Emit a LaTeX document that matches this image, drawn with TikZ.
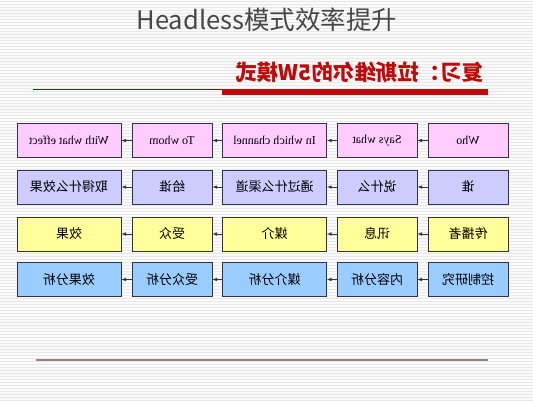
\documentclass[tikz,border=0pt]{standalone}
\usepackage{fontspec}
\usepackage{graphicx}
\usepackage{tikz}
\usetikzlibrary{positioning, calc}
\setmainfont{Liberation Serif}
\newfontfamily\cjk{Noto Sans CJK SC}
\newcommand{\mir}[1]{\reflectbox{#1}}
\definecolor{rowpink}{RGB}{255,204,255}
\definecolor{rowlilac}{RGB}{204,204,255}
\definecolor{rowyellow}{RGB}{255,255,153}
\definecolor{rowsky}{RGB}{153,204,255}
\definecolor{boxline}{RGB}{50,50,70}
\definecolor{headred}{RGB}{190,10,10}
\definecolor{endrule}{RGB}{150,130,125}

\begin{document}
\begin{tikzpicture}[>=latex, x=1pt, y=-1pt]

                \tikzset{% styles of the slide boxes
                    cell/.style={rectangle,minimum height=34pt,fill=#1,draw=boxline,line width=0.8pt,
                                        inner sep=1pt,font=\fontsize{12}{13}\selectfont},
                    zh/.style={font=\cjk\fontsize{13}{14}\selectfont},
                    wide/.style={minimum width=104pt},
                    narrow/.style={minimum width=80pt},
                    link/.style={->,line width=0.6pt,boxline}}

                    \useasboundingbox (0,0) rectangle (533,400);
                    \fill [gray!4] (0,0) rectangle (533,400);
                    \foreach \y in {1,4,...,400}
                        \draw [gray!18, line width=0.7pt] (0,\y) -- (533,\y);

                    % page title
                    \node [font=\cjk\fontsize{25.5}{27}\selectfont, text=black!72](title) at (267,20) {Headless模式效率提升};

                    % heading of the slide
                    \node [anchor=east, font=\cjk\bfseries\fontsize{21.5}{22}\selectfont, text=headred, inner sep=0pt](head) at (484,72) {\mir{复习：拉斯维尔的5W模式}};
                    \coordinate (bar_l) at (222,92);
                    \coordinate (bar_r) at (488,92);
                    \coordinate (rule_l) at (33,89);
                    \draw [headred, line width=6pt] (bar_l) -- (bar_r);
                    \draw [headred!70!black, line width=0.6pt] (rule_l) -- (bar_l |- rule_l);

                    % row 1
                    \node [cell=rowpink, narrow](who_1) at (468,140.5) {\mir{Who}};
                    \node [cell=rowpink, narrow](what_1) at (377,140.5) {\mir{Says what}};
                    \node [cell=rowpink, wide](channel_1) at (274.5,140.5) {\mir{In which channel}};
                    \node [cell=rowpink, narrow](whom_1) at (172,140.5) {\mir{To whom}};
                    \node [cell=rowpink, wide](effect_1) at (69,140.5) {\mir{With what effect}};

                    % row 2
                    \node [cell=rowlilac, narrow, zh](who_2) at (468,187) {\mir{谁}};
                    \node [cell=rowlilac, narrow, zh](what_2) at (377,187) {\mir{说什么}};
                    \node [cell=rowlilac, wide, zh](channel_2) at (274.5,187) {\mir{通过什么渠道}};
                    \node [cell=rowlilac, narrow, zh](whom_2) at (172,187) {\mir{给谁}};
                    \node [cell=rowlilac, wide, zh](effect_2) at (69,187) {\mir{取得什么效果}};

                    % row 3
                    \node [cell=rowyellow, narrow, zh](who_3) at (468,234) {\mir{传播者}};
                    \node [cell=rowyellow, narrow, zh](what_3) at (377,234) {\mir{讯息}};
                    \node [cell=rowyellow, wide, zh](channel_3) at (274.5,234) {\mir{媒介}};
                    \node [cell=rowyellow, narrow, zh](whom_3) at (172,234) {\mir{受众}};
                    \node [cell=rowyellow, wide, zh](effect_3) at (69,234) {\mir{效果}};

                    % row 4
                    \node [cell=rowsky, narrow, zh](who_4) at (468,279.5) {\mir{控制研究}};
                    \node [cell=rowsky, narrow, zh](what_4) at (377,279.5) {\mir{内容分析}};
                    \node [cell=rowsky, wide, zh](channel_4) at (274.5,279.5) {\mir{媒介分析}};
                    \node [cell=rowsky, narrow, zh](whom_4) at (172,279.5) {\mir{受众分析}};
                    \node [cell=rowsky, wide, zh](effect_4) at (69,279.5) {\mir{效果分析}};

                    \draw [link] (who_1) -- (what_1);
                    \draw [link] (what_1) -- (channel_1);
                    \draw [link] (channel_1) -- (whom_1);
                    \draw [link] (whom_1) -- (effect_1);

                    \draw [link] (who_2) -- (what_2);
                    \draw [link] (what_2) -- (channel_2);
                    \draw [link] (channel_2) -- (whom_2);
                    \draw [link] (whom_2) -- (effect_2);

                    \draw [link] (who_3) -- (what_3);
                    \draw [link] (what_3) -- (channel_3);
                    \draw [link] (channel_3) -- (whom_3);
                    \draw [link] (whom_3) -- (effect_3);

                    \draw [link] (who_4) -- (what_4);
                    \draw [link] (what_4) -- (channel_4);
                    \draw [link] (channel_4) -- (whom_4);
                    \draw [link] (whom_4) -- (effect_4);

                    % closing rule
                    \coordinate (end_l) at (36,360);
                    \coordinate (end_r) at (488,360);
                    \draw [endrule, line width=2.2pt] (end_l) -- (end_r);

            \end{tikzpicture}
\end{document}
